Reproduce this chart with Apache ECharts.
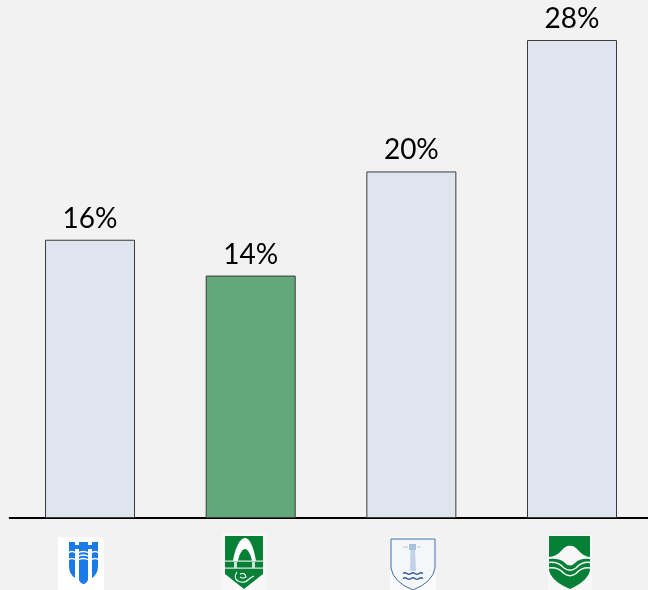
<!DOCTYPE html>
<html><head><meta charset="utf-8">
<script src="https://cdn.jsdelivr.net/npm/echarts@6/dist/echarts.min.js"></script>
<style>html,body{margin:0;padding:0;background:#f2f2f2}#c{width:648px;height:590px}</style></head>
<body><div id="c"></div>
<script>
const categories = ['Logo A', 'Logo B', 'Logo C', 'Logo D'];
const values = [16.3, 14.2, 20.3, 28];
const fills = ['#dee5ef', '#62a87b', '#dee5ef', '#dee5ef'];

const BLUE = '#1a7ae8', GREEN = '#078037', NAVY = '#3f6db5';
const r = (x, y, w, h, fill) => ({type:'rect', shape:{x,y,width:w,height:h}, style:{fill}});
const p = (d, style) => ({type:'path', shape:{pathData:d}, style});
const fillP = (d, fill) => p(d, {fill});
const strokeP = (d, stroke, lineWidth) => p(d, {fill:'none', stroke, lineWidth});

const logos = [[
  r(58,537,46,53,'#ffffff'),
  fillP('M69 542H75V578Q69 574 69 566Z', BLUE),
  fillP('M79 542H88V580Q86 584 83.5 584Q81 584 79 580Z', BLUE),
  fillP('M92 542H98V566Q98 574 92 578Z', BLUE),
  r(69,545,29,4,BLUE),
  strokeP('M68 553Q72 550 76 553M78 553Q83 550 89 553M91 553Q95 550 99 553', '#ffffff', 1.3),
  strokeP('M78 556.5Q83 553.5 89 556.5', '#ffffff', 1.3),
  strokeP('M68 560Q72 557 76 560M78 560Q83 557 89 560M91 560Q95 557 99 560', '#ffffff', 1.3)
],[
  r(222,533,45,57,'#f7f7f7'),
  fillP('M225 536H263V574L244 589L225 574Z', GREEN),
  fillP('M233 561C235 548 240 538 245 538C250 538 254 548 256 561H252C251 555 248 549 245 549C242 549 239 555 238 561Z', '#ffffff'),
  r(225,560.5,38,1.3,'#dbe9df'), r(225,567.5,38,1.3,'#dbe9df'),
  r(234,562,3,6,'#cfe3d6'), r(252,562,3,6,'#cfe3d6'),
  strokeP('M237 572Q233 578 238 581Q244 584 248 580Q251 577 254 576M240 574Q245 572 246 577Q243 579 240 577', '#ffffff', 1.1)
],[
  r(390,537,46,53,'#fafafa'),
  p('M391 539H435V568Q433 582 413 590Q393 582 391 568Z', {fill:'#f5f6f8', stroke:NAVY, lineWidth:1}),
  fillP('M410.5 550H415L416 571H410Z', '#c3d2e8'),
  r(409,544,7,6,'#a9bfde'),
  strokeP('M403 547H408M417 547H421', '#b6c9e4', 1.2),
  strokeP('M403 573.5Q405 572 407 573.5T411 573.5T415 573.5T419 573.5T423 573.5', '#34589e', 1.4),
  strokeP('M403 578.5Q405 577 407 578.5T411 578.5T415 578.5T419 578.5T423 578.5', '#34589e', 1.4)
],[
  r(548,535,44,55,'#f7f7f7'),
  fillP('M549 536H590V570Q588 581 570 589Q551 581 549 570Z', GREEN),
  fillP('M549 557Q556 557 562 550Q567 545 570 546Q573 545 578 550Q584 557 590 557V559Q580 558 575 563Q570 568 565 563Q560 558 549 559Z', '#f7f7f7'),
  strokeP('M549 562.5Q558 561.5 564 568Q570 572.5 576 568Q582 561.5 590 562.5', '#f7f7f7', 1.5),
  strokeP('M549 568Q558 567 564 573.5Q570 578 576 573.5Q582 567 590 568', '#f7f7f7', 1.5)
]];

const chart = echarts.init(document.getElementById('c'), null, {renderer:'canvas'});
chart.setOption({
  animation:false,
  backgroundColor:'#f2f2f2',
  grid:{left:9.7, right:0, top:40, bottom:72, containLabel:false},
  xAxis:{type:'value', min:-0.5, max:3.473, splitLine:{show:false}, axisTick:{show:false}, axisLabel:{show:false},
    axisLine:{show:true, onZero:false, lineStyle:{color:'#000000', width:2}}},
  yAxis:{type:'value', min:0, max:28, show:false, splitLine:{show:false}},
  series:[{
    type:'bar', barWidth:90, clip:false,
    data:values.map((v,i)=>({name:categories[i], value:[i,v], itemStyle:{color:fills[i]}})),
    itemStyle:{borderColor:'#3b3b3b', borderWidth:1},
    label:{show:true, position:'top', distance:7, color:'#000000',
      fontFamily:'Lato', fontSize:28, formatter:o=>Math.round(o.value[1])+'%'}
  },{
    type:'custom', silent:true, clip:false, tooltip:{show:false},
    data:categories.map((c,i)=>[i,0]),
    renderItem:(params)=>({type:'group', children:logos[params.dataIndex]})
  }]
});
</script></body></html>
